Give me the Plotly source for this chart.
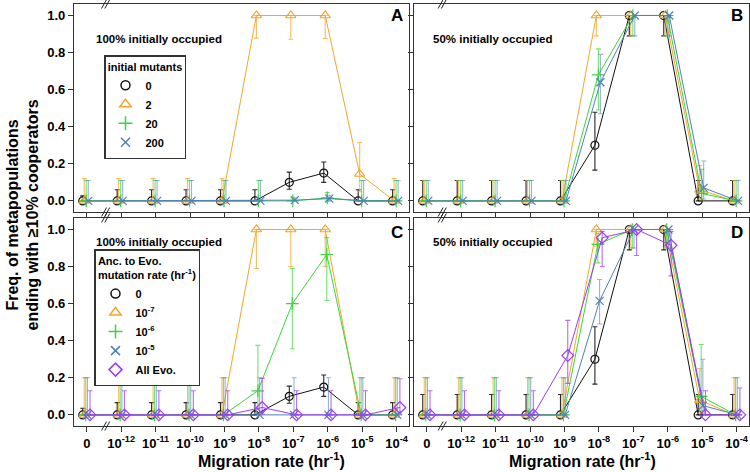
import numpy as np
import plotly.graph_objects as go

# ---------------- data ----------------
x_labels = ["0", "10<sup>-12</sup>", "10<sup>-11</sup>", "10<sup>-10</sup>", "10<sup>-9</sup>",
            "10<sup>-8</sup>", "10<sup>-7</sup>", "10<sup>-6</sup>", "10<sup>-5</sup>", "10<sup>-4</sup>"]
y_ticks = [0.0, 0.2, 0.4, 0.6, 0.8, 1.0]

# Panel A: 100% initially occupied, initial mutants
A_m0      = [0, 0, 0, 0, 0, 0, 0.10, 0.15, 0, 0]
A_m0_hi   = [0.027, 0.06, 0.06, 0.06, 0.06, 0.06, 0.155, 0.21, 0.06, 0.06]
A_m0_lo   = [0, 0, 0, 0, 0, 0, 0.063, 0.10, 0, 0]
A_m2      = [0, 0, 0, 0, 0, 1, 1, 1, 0.145, 0]
A_m2_hi   = [0.12, 0.12, 0.12, 0.12, 0.12, 1, 1, 1, 0.315, 0.12]
A_m2_lo   = [0, 0, 0, 0, 0, 0.878, 0.872, 0.876, 0.05, 0]
A_m20     = [0, 0, 0, 0, 0, 0, 0.0, 0.016, 0, 0]
A_m20_hi  = [0.11, 0.11, 0.11, 0.11, 0.11, 0.11, 0.015, 0.045, 0.11, 0.11]
A_m20_lo  = [0, 0, 0, 0, 0, 0, 0, 0, 0, 0]
A_m200    = [0, 0, 0, 0, 0, 0, 0.004, 0.012, 0, 0]
A_m200_hi = [0.11, 0.11, 0.11, 0.11, 0.11, 0.11, 0.015, 0.03, 0.11, 0.11]
A_m200_lo = [0, 0, 0, 0, 0, 0, 0, 0, 0, 0]

# Panel B: 50% initially occupied, initial mutants
B_m0      = [0, 0, 0, 0, 0, 0.30, 1, 1, 0, 0]
B_m0_hi   = [0.11, 0.11, 0.11, 0.11, 0.11, 0.478, 1, 1, 0.11, 0.11]
B_m0_lo   = [0, 0, 0, 0, 0, 0.166, 0.89, 0.89, 0, 0]
B_m2      = [0, 0, 0, 0, 0, 1, 1, 1, 0.06, 0]
B_m2_hi   = [0.11, 0.11, 0.11, 0.11, 0.11, 1, 1, 1, 0.19, 0.11]
B_m2_lo   = [0, 0, 0, 0, 0, 0.89, 0.89, 0.89, 0.01, 0]
B_m20     = [0, 0, 0, 0, 0, 0.68, 1, 1, 0.04, 0]
B_m20_hi  = [0.11, 0.11, 0.11, 0.11, 0.11, 0.82, 1, 1, 0.17, 0.11]
B_m20_lo  = [0, 0, 0, 0, 0, 0.49, 0.89, 0.89, 0.005, 0]
B_m200    = [0, 0, 0, 0, 0, 0.64, 1, 1, 0.07, 0]
B_m200_hi = [0.11, 0.11, 0.11, 0.11, 0.11, 0.79, 1, 1, 0.215, 0.11]
B_m200_lo = [0, 0, 0, 0, 0, 0.47, 0.89, 0.89, 0.01, 0]

# Panel C: 100% initially occupied, ancestor-to-evolved mutation rate
C_r0      = [0, 0, 0, 0, 0, 0, 0.10, 0.15, 0, 0]
C_r0_hi   = [0.036, 0.066, 0.066, 0.066, 0.066, 0.066, 0.155, 0.215, 0.066, 0.066]
C_r0_lo   = [0, 0, 0, 0, 0, 0, 0.063, 0.10, 0, 0]
C_r7      = [0, 0, 0, 0, 0, 1, 1, 1, 0, 0]
C_r7_hi   = [0.2, 0.2, 0.2, 0.2, 0.2, 1, 1, 1, 0.2, 0.2]
C_r7_lo   = [0, 0, 0, 0, 0, 0.79, 0.80, 0.80, 0, 0]
C_r6      = [0, 0, 0, 0, 0, 0.13, 0.60, 0.865, 0, 0]
C_r6_hi   = [0.2, 0.2, 0.2, 0.2, 0.2, 0.375, 0.79, 0.956, 0.2, 0.2]
C_r6_lo   = [0, 0, 0, 0, 0, 0.03, 0.357, 0.617, 0, 0]
C_r5      = [0, 0, 0, 0, 0, 0, 0, 0, 0, 0]
C_r5_hi   = [0.2, 0.2, 0.2, 0.2, 0.2, 0.2, 0.2, 0.2, 0.2, 0.2]
C_r5_lo   = [0, 0, 0, 0, 0, 0, 0, 0, 0, 0]
C_all     = [0, 0, 0, 0, 0, 0.04, 0, 0, 0, 0.04]
C_all_hi  = [0.13, 0.13, 0.13, 0.13, 0.13, 0.197, 0.13, 0.13, 0.13, 0.195]
C_all_lo  = [0, 0, 0, 0, 0, 0.005, 0, 0, 0, 0.005]

# Panel D: 50% initially occupied, ancestor-to-evolved mutation rate
D_r0      = [0, 0, 0, 0, 0, 0.30, 1, 1, 0, 0]
D_r0_hi   = [0.11, 0.11, 0.11, 0.11, 0.11, 0.475, 1, 1, 0.11, 0.11]
D_r0_lo   = [0, 0, 0, 0, 0, 0.166, 0.89, 0.89, 0, 0]
D_r7      = [0, 0, 0, 0, 0, 1, 1, 1, 0.08, 0]
D_r7_hi   = [0.2, 0.2, 0.2, 0.2, 0.2, 1, 1, 1, 0.25, 0.2]
D_r7_lo   = [0, 0, 0, 0, 0, 0.91, 0.90, 0.90, 0.01, 0]
D_r6      = [0, 0, 0, 0, 0, 0.92, 1, 1, 0.10, 0]
D_r6_hi   = [0.2, 0.2, 0.2, 0.2, 0.2, 0.98, 1, 1, 0.38, 0.2]
D_r6_lo   = [0, 0, 0, 0, 0, 0.82, 0.90, 0.90, 0.02, 0]
D_r5      = [0, 0, 0, 0, 0, 0.615, 1, 1, 0.05, 0]
D_r5_hi   = [0.2, 0.2, 0.2, 0.2, 0.2, 0.73, 1, 1, 0.30, 0.2]
D_r5_lo   = [0, 0, 0, 0, 0, 0.49, 0.90, 0.90, 0.005, 0]
D_all     = [0, 0, 0, 0, 0.32, 0.955, 1, 0.915, 0, 0]
D_all_hi  = [0.13, 0.13, 0.13, 0.13, 0.51, 0.99, 1, 0.99, 0.13, 0.145]
D_all_lo  = [0, 0, 0, 0, 0.17, 0.80, 0.86, 0.75, 0, 0]

legendA_names = ["0", "2", "20", "200"]
legendC_names = ["0", "10<sup>-7</sup>", "10<sup>-6</sup>", "10<sup>-5</sup>", "All Evo."]

# ---------------- styles ----------------
FONT = "Liberation Sans, Arial, Helvetica, sans-serif"
BLACK = "#111111"
ORANGE = "#F5A52A"
GREEN = "#3AD63A"
BLUE = "#4F82B8"
PURPLE = "#9B3DF0"

def rgba(hexc, a):
    h = hexc.lstrip("#")
    return "rgba(%d,%d,%d,%.2f)" % (int(h[0:2], 16), int(h[2:4], 16), int(h[4:6], 16), a)

STY = {
    "k": dict(color=BLACK, symbol="circle-open", size=8, err=rgba("#111111", 0.9)),
    "o": dict(color=ORANGE, symbol="triangle-up-open", size=9, err=rgba(ORANGE, 0.75)),
    "g": dict(color=GREEN, symbol="cross-thin-open", size=9, err=rgba(GREEN, 0.7)),
    "b": dict(color=BLUE, symbol="x-thin-open", size=8, err=rgba(BLUE, 0.6)),
    "p": dict(color=PURPLE, symbol="diamond-open", size=9, err=rgba(PURPLE, 0.75)),
}
PX = 1 / 34.5  # one pixel in x-index units
OFF4 = {"k": -4 * PX, "o": -2.5 * PX, "g": -0.5 * PX, "b": 1.5 * PX}
OFF5 = {"k": -4 * PX, "o": -2.5 * PX, "g": -1 * PX, "b": 0.7 * PX, "p": 3.3 * PX}

idx = np.arange(len(x_labels), dtype=float)
fig = go.Figure()


def add_series(xa, ya, vals, hi, lo, key, off):
    v = np.array(vals, float)
    s = STY[key]
    fig.add_trace(go.Scatter(
        x=idx + off, y=v, xaxis=xa, yaxis=ya, mode="lines+markers", showlegend=False,
        line=dict(color=s["color"], width=1),
        marker=dict(symbol=s["symbol"], size=s["size"], color=s["color"],
                    line=dict(color=s["color"], width=1.2)),
        error_y=dict(type="data", symmetric=False,
                     array=np.array(hi, float) - v, arrayminus=v - np.array(lo, float),
                     color=s["err"], thickness=1.1, width=2.5),
        hoverinfo="skip"))


def add_legend_entry(xa, ya, key, name, legend):
    s = STY[key]
    fig.add_trace(go.Scatter(
        x=[None], y=[None], xaxis=xa, yaxis=ya, mode="markers", name=name, legend=legend,
        marker=dict(symbol=s["symbol"], size=s["size"] + 1, color=s["color"],
                    line=dict(color=s["color"], width=1.5))))


panelA = [(A_m0, A_m0_hi, A_m0_lo, "k"), (A_m2, A_m2_hi, A_m2_lo, "o"),
          (A_m20, A_m20_hi, A_m20_lo, "g"), (A_m200, A_m200_hi, A_m200_lo, "b")]
panelB = [(B_m0, B_m0_hi, B_m0_lo, "k"), (B_m2, B_m2_hi, B_m2_lo, "o"),
          (B_m20, B_m20_hi, B_m20_lo, "g"), (B_m200, B_m200_hi, B_m200_lo, "b")]
panelC = [(C_r0, C_r0_hi, C_r0_lo, "k"), (C_r7, C_r7_hi, C_r7_lo, "o"),
          (C_r6, C_r6_hi, C_r6_lo, "g"), (C_r5, C_r5_hi, C_r5_lo, "b"),
          (C_all, C_all_hi, C_all_lo, "p")]
panelD = [(D_r0, D_r0_hi, D_r0_lo, "k"), (D_r7, D_r7_hi, D_r7_lo, "o"),
          (D_r6, D_r6_hi, D_r6_lo, "g"), (D_r5, D_r5_hi, D_r5_lo, "b"),
          (D_all, D_all_hi, D_all_lo, "p")]

for vals, hi, lo, k in panelA:
    add_series("x", "y", vals, hi, lo, k, OFF4[k])
for vals, hi, lo, k in panelB:
    add_series("x2", "y2", vals, hi, lo, k, OFF4[k])
for vals, hi, lo, k in panelC:
    add_series("x3", "y3", vals, hi, lo, k, OFF5[k])
for vals, hi, lo, k in panelD:
    add_series("x4", "y4", vals, hi, lo, k, OFF5[k])

for name, k in zip(legendA_names, ["k", "o", "g", "b"]):
    add_legend_entry("x", "y", k, name, "legend")
for name, k in zip(legendC_names, ["k", "o", "g", "b", "p"]):
    add_legend_entry("x3", "y3", k, name, "legend2")

# ---------------- layout ----------------
W, H = 750, 472
ML, MR, MT, MB = 74, 1, 4, 46
PW, PH = W - ML - MR, H - MT - MB


def px_x(p):
    return (p - ML) / PW


def px_y(p):
    return (H - MB - p) / PH


xdomL = [0, px_x(409)]
xdomR = [px_x(414), 1]
ydomT = [px_y(212), 1]
ydomB = [0, px_y(218)]

XR = [-0.37, 9.36]
YR = [-0.06, 1.062]
tickfont = dict(family=FONT, size=13, color="black", weight="bold")


def xaxis(dom, anchor, labels):
    return dict(domain=dom, anchor=anchor, range=XR, tickmode="array", tickvals=idx.tolist(),
                ticktext=x_labels, showticklabels=labels, ticks="outside", ticklen=5,
                tickwidth=1, tickcolor="#333", showline=True, mirror=True, linecolor="#333",
                linewidth=1.3, showgrid=False, zeroline=False, tickfont=tickfont, fixedrange=True)


def yaxis(dom, anchor, labels):
    return dict(domain=dom, anchor=anchor, range=YR, tickmode="array", tickvals=y_ticks,
                ticktext=["%.1f" % t for t in y_ticks], showticklabels=labels, ticks="outside",
                ticklen=5, tickwidth=1, tickcolor="#333", showline=True, mirror=True,
                linecolor="#333", linewidth=1.3, showgrid=False, zeroline=False,
                tickfont=tickfont, fixedrange=True)


legfont = dict(family=FONT, size=11, color="black", weight="bold")
fig.update_layout(
    width=W, height=H,
    margin=dict(l=ML, r=MR, t=MT, b=MB),
    paper_bgcolor="white", plot_bgcolor="white",
    font=dict(family=FONT, color="black"),
    xaxis=xaxis(xdomL, "y", False), yaxis=yaxis(ydomT, "x", True),
    xaxis2=xaxis(xdomR, "y2", False), yaxis2=yaxis(ydomT, "x2", False),
    xaxis3=xaxis(xdomL, "y3", True), yaxis3=yaxis(ydomB, "x3", True),
    xaxis4=xaxis(xdomR, "y4", True), yaxis4=yaxis(ydomB, "x4", False),
    legend=dict(x=px_x(104), y=px_y(55), xanchor="left", yanchor="top",
                bgcolor="white", bordercolor="#333", borderwidth=1.5,
                font=legfont, tracegroupgap=0, itemwidth=30,
                title=dict(text="initial mutants", side="top center", font=legfont)),
    legend2=dict(x=px_x(94), y=px_y(249), xanchor="left", yanchor="top",
                 bgcolor="white", bordercolor="#333", borderwidth=1.5,
                 font=legfont, tracegroupgap=0, itemwidth=30,
                 title=dict(text="Anc. to Evo.<br>mutation rate (hr<sup>-1</sup>)",
                            side="top center", font=legfont)),
    showlegend=True,
)

ann = []
labfont = dict(family=FONT, size=11.5, color="black", weight="bold")
ann.append(dict(text="100% initially occupied", xref="x", yref="y", x=0.21, y=0.874,
                xanchor="left", yanchor="middle", showarrow=False, font=labfont))
ann.append(dict(text="50% initially occupied", xref="x2", yref="y2", x=0.125, y=0.874,
                xanchor="left", yanchor="middle", showarrow=False, font=labfont))
ann.append(dict(text="100% initially occupied", xref="x3", yref="y3", x=0.21, y=0.933,
                xanchor="left", yanchor="middle", showarrow=False, font=labfont))
ann.append(dict(text="50% initially occupied", xref="x4", yref="y4", x=0.125, y=0.933,
                xanchor="left", yanchor="middle", showarrow=False, font=labfont))
letfont = dict(family=FONT, size=17, color="black", weight="bold")
for txt, px, py in [("A", 396.7, 15.7), ("B", 736.7, 15.7), ("C", 396.7, 232), ("D", 736.7, 232)]:
    ann.append(dict(text=txt, xref="paper", yref="paper", x=px_x(px), y=px_y(py),
                    xanchor="center", yanchor="middle", showarrow=False, font=letfont))
ttlfont = dict(family=FONT, size=16, color="black", weight="bold")
ann.append(dict(text="Freq. of metapopulations<br>ending with ≥10% cooperators",
                xref="paper", yref="paper", x=px_x(22.5), y=px_y(215), textangle=-90,
                xanchor="center", yanchor="middle", showarrow=False, font=ttlfont))
for cx in [271, 582]:
    ann.append(dict(text="Migration rate (hr<sup>-1</sup>)", xref="paper", yref="paper",
                    x=px_x(cx), y=px_y(460), xanchor="center", yanchor="middle",
                    showarrow=False, font=ttlfont))
fig.update_layout(annotations=ann)

# axis-break marks "//"
shapes = []
dy = 4.5 / 208
for xa, ya, xb in [("x", "y", 0.55), ("x2", "y2", 0.45), ("x3", "y3", 0.55), ("x4", "y4", 0.45)]:
    for yedge in [0, 1]:
        for c in [xb - 1.6 * PX, xb + 1.6 * PX]:
            shapes.append(dict(type="line", xref=xa, yref=ya + " domain",
                               x0=c - 2.5 * PX, x1=c + 2.5 * PX,
                               y0=yedge - dy, y1=yedge + dy,
                               line=dict(color="#222", width=1)))
fig.update_layout(shapes=shapes)

fig.write_html("out.html", config={"displayModeBar": False},
               post_script="document.body.style.margin='0';document.body.style.overflow='hidden';")
